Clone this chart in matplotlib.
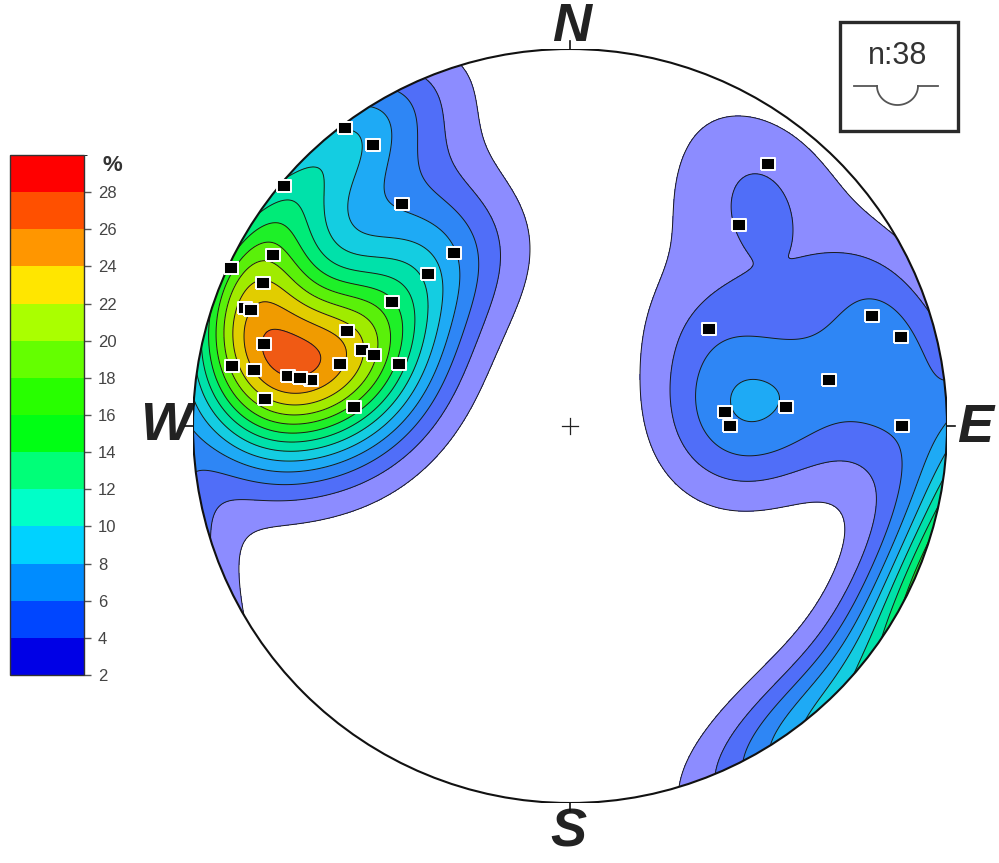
import numpy as np
import matplotlib
matplotlib.use('Agg')
import matplotlib.pyplot as plt
from matplotlib.colors import ListedColormap, BoundaryNorm
from matplotlib.cm import ScalarMappable
from matplotlib.patches import Circle, Rectangle

# poles, lower hemisphere: trend / plunge in degrees
trend = [323, 325, 310, 323, 326, 317, 300, 295, 295, 290, 290, 305, 293,
         285, 290, 290, 280, 280, 285, 290, 280, 280, 280, 275, 275,
         323, 295, 280,
         37, 40, 55, 70, 75, 80, 85, 85, 90, 90]
plunge = [1, 10, 1, 27, 44, 44, 10, 1, 11, 9, 11, 42, 36,
          17, 41, 44, 10, 16, 37, 50, 25, 28, 31, 20, 42,
          1, 1, 28,
          14, 31, 53, 16, 10, 31, 42, 56, 55, 13]

peak = 26.9   # highest density, %
levels = [2, 4, 6, 8, 10, 12, 14, 16, 18, 20, 22, 24, 26, 28, 30]
map_colors = ['#8c8cff', '#506ef8', '#2e86f5', '#1eaaf5', '#14cde1', '#00e1aa',
              '#00eb78', '#1ef028', '#5af00a', '#a0eb00', '#e1cd00', '#f09b00',
              '#f05a14', '#f01e1e']
bar_colors = ['#0000e6', '#0046ff', '#008cff', '#00d2ff', '#00ffc8', '#00ff78',
              '#00ff14', '#28ff00', '#64ff00', '#aaff00', '#ffe600', '#ff9600',
              '#ff5000', '#ff0000']

kappa = 23.0

t = np.radians(trend)
p = np.radians(plunge)
v = np.array([np.cos(p) * np.sin(t), np.cos(p) * np.cos(t), -np.sin(p)])

g = np.linspace(-1.03, 1.03, 521)
X, Y = np.meshgrid(g, g)
R = np.clip(np.hypot(X, Y), 0, 1.41)
th = 2 * np.arcsin(R / np.sqrt(2))
az = np.arctan2(X, Y)
gx = np.sin(th) * np.sin(az)
gy = np.sin(th) * np.cos(az)
gz = -np.cos(th)
dots = np.abs(gx[..., None] * v[0] + gy[..., None] * v[1] + gz[..., None] * v[2])
dens = np.exp(kappa * (dots - 1)).sum(-1)
dens = dens / dens[np.hypot(X, Y) <= 1].max() * peak

# projected pole positions (equal area)
rp = np.sqrt(2) * np.sin((np.pi / 2 - p) / 2)
px = rp * np.sin(t)
py = rp * np.cos(t)

fig = plt.figure(figsize=(9.99, 8.63), dpi=100)
ax = fig.add_axes([193 / 999, 60 / 863, 754 / 999, 754 / 863])
ax.set_xlim(-1, 1)
ax.set_ylim(-1, 1)
ax.set_aspect('equal')
ax.axis('off')

clip = Circle((0, 0), 1, transform=ax.transData)
cf = ax.contourf(X, Y, dens, levels=levels, colors=map_colors)
cl = ax.contour(X, Y, dens, levels=levels[:-1], colors='#1a1a1a', linewidths=0.7)
cf.set_clip_path(clip)
cl.set_clip_path(clip)

ax.add_patch(Circle((0, 0), 1, fill=False, lw=1.5, ec='#111111', zorder=5))
for a in [0, 90, 180, 270]:
    s, c = np.sin(np.radians(a)), np.cos(np.radians(a))
    ax.plot([s, 1.02 * s], [c, 1.02 * c], color='#111111', lw=1.2, clip_on=False, zorder=5)
ax.plot([-0.022, 0.022], [0, 0], color='#222222', lw=0.9, zorder=5)
ax.plot([0, 0], [-0.022, 0.022], color='#222222', lw=0.9, zorder=5)

rect = [(-1, -0.8), (1, -0.8), (1, 0.8), (-1, 0.8), (-1, -0.8)]
ax.plot(px, py, ls='none', marker=rect, ms=10.5, mfc='black', mec='white', mew=1.4, zorder=6)

lab = dict(fontsize=39, fontweight='bold', fontstyle='italic', family='Liberation Sans',
           color='#222222', ha='center', va='center', clip_on=False)
ax.text(0.005, 1.058, 'N', **lab)
ax.text(-0.005, -1.077, 'S', **lab)
ax.text(-1.074, 0.0, 'W', **lab)
ax.text(1.074, -0.005, 'E', **lab)

# colour scale
cax = fig.add_axes([10 / 999, 188 / 863, 74 / 999, 520 / 863])
sm = ScalarMappable(norm=BoundaryNorm(levels, len(bar_colors)), cmap=ListedColormap(bar_colors))
cb = fig.colorbar(sm, cax=cax, ticks=levels[:-1])
cb.outline.set_linewidth(1.0)
cb.outline.set_edgecolor('#333333')
cax.tick_params(length=5, width=1, color='#555555', pad=5, labelsize=12, labelcolor='#444444')
for tl in cax.get_yticklabels():
    tl.set_family('Liberation Sans')
cax.text(1.38, 0.98, '%', transform=cax.transAxes, ha='center', va='center',
         fontsize=16, fontweight='bold', family='Liberation Sans', color='#333333')

# n box
ov = fig.add_axes([0, 0, 1, 1])
ov.set_xlim(0, 999)
ov.set_ylim(863, 0)
ov.axis('off')
ov.patch.set_alpha(0)
ov.add_patch(Rectangle((840, 22), 118, 109, fill=False, lw=2.4, ec='#2a2a2a'))
ov.text(898, 56, 'n:' + str(len(trend)), ha='center', va='center', fontsize=22,
        family='Liberation Sans', color='#333333')
ang = np.linspace(0, np.pi, 60)
ov.plot([854, 877], [86, 86], color='#555555', lw=1.3)
ov.plot([918, 938], [86, 86], color='#555555', lw=1.3)
ov.plot(897.5 + 20.5 * np.cos(ang), 86 + 19 * np.sin(ang), color='#555555', lw=1.3)

fig.savefig('out.png', dpi=100)
